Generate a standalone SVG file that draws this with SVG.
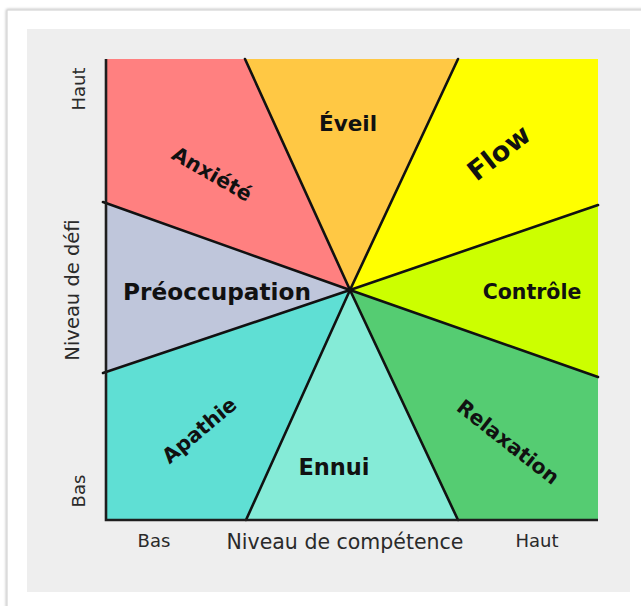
<svg xmlns="http://www.w3.org/2000/svg" width="641" height="606" viewBox="0 0 641 606">
<defs>
<style>
.lbl{font-family:"DejaVu Sans","Liberation Sans",sans-serif;font-weight:bold;fill:#111111;text-anchor:middle}
.ax{font-family:"DejaVu Sans","Liberation Sans",sans-serif;fill:#2a2a2a;text-anchor:middle}
.div{stroke:#111;stroke-width:2.6;fill:none;stroke-linecap:round}
.axis{stroke:#1e1e1e;stroke-width:2.6;fill:none}
</style>
<filter id="sh" x="-5%" y="-5%" width="110%" height="110%">
<feGaussianBlur in="SourceAlpha" stdDeviation="1.5"/>
<feComponentTransfer><feFuncA type="linear" slope="0.35"/></feComponentTransfer>
<feMerge><feMergeNode/><feMergeNode in="SourceGraphic"/></feMerge>
</filter>
</defs>
<rect width="641" height="606" fill="#ffffff"/>
<rect x="7" y="10" width="640" height="605" fill="#ffffff" stroke="#d4d4d4" stroke-width="1.2" filter="url(#sh)"/>
<rect x="27" y="29" width="603" height="563" fill="#eeeeee"/>

<g id="anxiete">
<polygon points="106,59 245,59 350,290 106,203" fill="#ff8080"/>
<text class="lbl" font-size="20.5" transform="translate(212,174) rotate(30)" y="7">Anxiété</text>
</g>
<g id="eveil">
<polygon points="245,59 458,59 350,290" fill="#ffc844"/>
<text class="lbl" font-size="21.5" x="348" y="131">Éveil</text>
</g>
<g id="flow">
<polygon points="458,59 598,59 598,205 350,290" fill="#ffff00"/>
<text class="lbl" font-size="27" transform="translate(499,153) rotate(-38)" y="9">Flow</text>
</g>
<g id="controle">
<polygon points="598,205 598,377 350,290" fill="#ccff00"/>
<text class="lbl" font-size="20.5" x="532" y="299">Contrôle</text>
</g>
<g id="relaxation">
<polygon points="598,377 598,520 458,520 350,290" fill="#55cc72"/>
<text class="lbl" font-size="20.5" transform="translate(508,442) rotate(38)" y="7">Relaxation</text>
</g>
<g id="ennui">
<polygon points="458,520 246,520 350,290" fill="#85ebd7"/>
<text class="lbl" font-size="22.5" x="334" y="475">Ennui</text>
</g>
<g id="apathie">
<polygon points="246,520 106,520 106,373 350,290" fill="#5fdfd4"/>
<text class="lbl" font-size="20.5" transform="translate(200,431) rotate(-40)" y="6">Apathie</text>
</g>
<g id="preoccupation">
<polygon points="106,373 106,203 350,290" fill="#bfc6db"/>
<text class="lbl" font-size="23.2" x="217" y="300">Préoccupation</text>
</g>

<g id="connectors">
<line class="div" x1="350" y1="290" x2="245" y2="59"/>
<line class="div" x1="350" y1="290" x2="458" y2="59"/>
<line class="div" x1="350" y1="290" x2="598" y2="205"/>
<line class="div" x1="350" y1="290" x2="598" y2="377"/>
<line class="div" x1="350" y1="290" x2="458" y2="520"/>
<line class="div" x1="350" y1="290" x2="246" y2="520"/>
<line class="div" x1="350" y1="290" x2="103" y2="373"/>
<line class="div" x1="350" y1="290" x2="103" y2="202"/>
<polyline class="axis" points="106,59 106,520 598,520"/>
</g>

<g id="axis-labels">
<text class="ax" font-size="18" transform="translate(85,89) rotate(-90)">Haut</text>
<text class="ax" font-size="19.5" transform="translate(79,290) rotate(-90)">Niveau de défi</text>
<text class="ax" font-size="18" transform="translate(85,491) rotate(-90)">Bas</text>
<text class="ax" font-size="18" x="154" y="547">Bas</text>
<text class="ax" font-size="20.5" x="345" y="549">Niveau de compétence</text>
<text class="ax" font-size="18" x="537" y="547">Haut</text>
</g>
</svg>
